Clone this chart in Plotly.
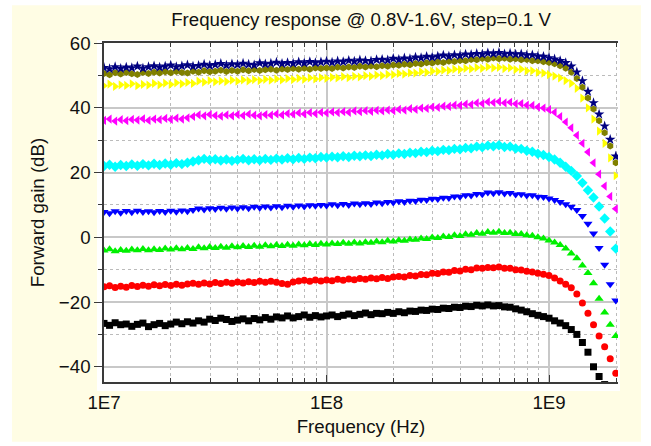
import numpy as np
import plotly.graph_objects as go

# Frequency sweep: 93 log-spaced points, 10 MHz .. 2 GHz (40 points per decade)
FREQ_HZ = np.logspace(7, 9.3, 93)

SUPPLY_V = ["0.8 V", "0.9 V", "1.0 V", "1.1 V", "1.2 V", "1.3 V", "1.4 V", "1.5 V", "1.6 V"]

gain_08 = [
    -26.6, -27.2, -26.4, -27.0, -26.8, -27.5, -26.9, -26.5, -27.6, -27.0,
    -26.6, -27.3, -26.8, -26.2, -26.7, -26.1, -26.5, -25.8, -26.2, -25.3,
    -25.7, -25.0, -25.4, -26.0, -25.6, -25.2, -25.8, -25.1, -25.5, -24.8,
    -25.3, -24.6, -24.9, -24.3, -24.9, -24.5, -24.0, -24.7, -24.2, -24.6,
    -24.3, -24.0, -24.5, -24.1, -23.7, -24.2, -23.8, -23.4, -23.9, -23.5,
    -23.6, -23.2, -23.5, -23.0, -23.3, -22.8, -22.9, -22.5, -22.6, -22.2,
    -22.3, -21.9, -22.0, -21.6, -21.7, -21.3, -21.4, -21.0, -21.2, -20.9,
    -21.2, -21.1, -21.5, -21.6, -22.1, -22.5, -23.0, -23.6, -24.1, -24.5,
    -25.0, -25.8, -26.5, -27.3, -28.5, -30.0, -32.5, -35.5, -40.0, -43.0, -45.5, -48.5, -51.5,
]
gain_09 = [
    -15.3, -15.0, -15.5, -15.1, -15.4, -14.9, -15.2, -14.8, -15.1, -14.7,
    -15.0, -14.6, -14.9, -14.5, -14.8, -14.4, -14.2, -14.5, -14.1, -14.4,
    -14.0, -14.3, -13.9, -14.2, -13.8, -14.1, -13.7, -14.0, -13.6, -13.9,
    -13.6, -13.9, -14.3, -14.5, -13.8, -13.5, -13.3, -13.6, -13.2, -13.5,
    -13.2, -13.4, -13.0, -13.3, -12.9, -13.1, -12.7, -13.0, -12.6, -12.8,
    -12.4, -12.7, -12.3, -12.1, -12.3, -11.8, -12.0, -11.5, -11.6, -11.1,
    -11.2, -10.7, -10.8, -10.3, -10.4, -9.9, -10.0, -9.5, -9.6, -9.3,
    -9.4, -9.2, -9.6, -9.6, -10.0, -10.1, -10.5, -10.7, -11.1, -11.4,
    -11.8, -12.6, -13.5, -14.5, -15.6, -17.5, -20.3, -23.5, -27.0, -30.5, -33.8, -37.5, -42.0,
]
gain_10 = [
    -4.1, -3.7, -4.3, -3.9, -4.2, -3.8, -4.0, -3.6, -4.0, -3.7,
    -3.9, -3.5, -3.8, -3.4, -3.7, -3.3, -3.6, -3.1, -3.4, -3.0,
    -3.3, -2.9, -3.2, -2.8, -3.1, -2.7, -3.0, -2.6, -2.9, -2.5,
    -2.8, -2.4, -2.7, -2.3, -2.6, -2.2, -2.5, -2.1, -2.4, -2.0,
    -2.2, -1.9, -2.1, -1.7, -2.0, -1.6, -1.9, -1.5, -1.7, -1.3,
    -1.5, -1.1, -1.3, -0.9, -1.1, -0.7, -0.8, -0.4, -0.5, -0.1,
    -0.2, 0.2, 0.1, 0.6, 0.4, 0.9, 0.8, 1.3, 1.1, 1.6,
    1.4, 1.7, 1.3, 1.4, 1.0, 1.0, 0.6, 0.5, 0.0, -0.4,
    -1.0, -1.6, -2.4, -3.5, -5.0, -6.5, -8.7, -11.0, -14.2, -19.0, -23.2, -27.0, -30.5,
]
gain_11 = [
    7.8, 7.4, 8.0, 7.6, 8.1, 7.7, 8.2, 7.8, 8.0, 7.7,
    8.1, 7.8, 8.2, 7.9, 8.3, 8.0, 8.4, 8.9, 8.6, 9.0,
    8.7, 9.1, 8.8, 9.2, 8.9, 9.3, 9.0, 9.4, 9.1, 9.5,
    9.2, 9.6, 9.3, 9.7, 9.4, 9.8, 9.5, 9.9, 9.7, 10.0,
    9.8, 10.2, 9.9, 10.3, 10.0, 10.4, 10.2, 10.5, 10.3, 10.7,
    10.5, 10.9, 10.7, 11.1, 10.9, 11.3, 11.2, 11.6, 11.5, 11.9,
    11.8, 12.2, 12.1, 12.6, 12.5, 13.0, 12.9, 13.4, 13.3, 13.8,
    13.6, 13.9, 13.5, 13.7, 13.2, 13.3, 12.9, 13.0, 12.5, 12.4,
    12.0, 11.5, 10.9, 10.2, 9.4, 8.4, 6.6, 4.2, 1.2, -3.3, -8.5, -14.5, -19.5,
]
gain_12 = [
    22.0, 22.4, 21.8, 22.3, 22.0, 22.5, 22.1, 22.6, 22.2, 22.7,
    22.3, 22.8, 22.4, 22.9, 22.6, 23.0, 23.4, 23.8, 24.2, 23.9,
    24.1, 23.7, 24.0, 23.6, 23.9, 24.2, 23.8, 24.1, 23.8, 24.2,
    23.9, 24.3, 24.0, 24.4, 24.1, 24.5, 24.2, 24.6, 24.4, 24.8,
    24.6, 24.9, 24.7, 25.0, 24.8, 25.2, 25.0, 25.3, 25.1, 25.5,
    25.3, 25.7, 25.5, 25.9, 25.7, 26.1, 26.0, 26.4, 26.3, 26.7,
    26.6, 27.0, 26.9, 27.3, 27.2, 27.6, 27.5, 28.0, 27.8, 28.3,
    28.1, 28.4, 27.9, 28.0, 27.4, 27.3, 26.7, 26.4, 25.8, 25.4,
    24.8, 24.0, 23.0, 21.8, 20.5, 18.9, 16.8, 14.5, 12.3, 9.5, 5.8, 1.8, -3.5,
]
gain_13 = [
    36.1, 36.5, 35.9, 36.3, 36.0, 36.4, 36.2, 36.6, 36.1, 36.5,
    36.3, 36.7, 36.4, 36.8, 36.5, 36.9, 37.3, 37.8, 37.5, 37.9,
    37.6, 37.4, 37.8, 37.5, 37.9, 37.6, 38.0, 37.7, 37.5, 37.9,
    37.7, 38.1, 37.8, 38.2, 38.0, 38.4, 38.1, 38.5, 38.2, 38.6,
    38.4, 38.7, 38.5, 38.8, 38.6, 39.0, 38.8, 39.1, 38.9, 39.2,
    39.0, 39.3, 39.1, 39.5, 39.3, 39.7, 39.5, 39.9, 39.8, 40.2,
    40.1, 40.5, 40.4, 40.8, 40.7, 41.1, 41.0, 41.5, 41.3, 41.8,
    41.6, 41.9, 41.5, 41.7, 41.2, 41.3, 40.8, 40.7, 40.2, 39.9,
    39.4, 38.6, 37.3, 35.6, 33.8, 31.5, 29.0, 26.3, 23.0, 19.5, 15.8, 12.6, 8.8,
]
gain_14 = [
    46.8, 47.3, 46.6, 47.1, 46.9, 47.4, 46.8, 47.2, 47.0, 47.5,
    47.1, 47.6, 47.2, 47.7, 47.4, 47.8, 47.5, 48.2, 47.9, 48.4,
    48.0, 48.3, 48.1, 48.5, 48.2, 48.6, 48.3, 48.7, 48.4, 48.8,
    48.5, 48.9, 48.6, 49.0, 48.7, 49.1, 48.8, 49.2, 48.9, 49.3,
    49.1, 49.4, 49.2, 49.6, 49.3, 49.7, 49.5, 49.9, 49.7, 50.1,
    49.9, 50.3, 50.2, 50.6, 50.4, 50.8, 50.7, 51.1, 50.9, 51.3,
    51.2, 51.6, 51.5, 51.9, 51.8, 52.2, 52.0, 52.4, 52.2, 52.6,
    52.3, 52.5, 52.1, 52.3, 51.8, 51.9, 51.4, 51.4, 50.9, 50.7,
    50.2, 49.8, 49.2, 48.4, 47.5, 46.0, 43.0, 40.0, 36.5, 32.8, 29.0, 24.5, 19.0,
]
gain_15 = [
    50.6, 50.2, 50.8, 50.4, 50.9, 50.5, 50.3, 50.9, 50.6, 51.0,
    50.7, 51.1, 50.8, 51.2, 50.9, 50.7, 51.3, 51.0, 51.4, 51.1,
    51.3, 51.6, 51.2, 51.5, 51.3, 51.7, 51.4, 51.8, 51.5, 51.7,
    51.9, 51.6, 52.0, 51.8, 52.1, 51.9, 52.2, 51.9, 52.3, 52.1,
    52.3, 52.1, 52.5, 52.3, 52.6, 52.4, 52.8, 52.6, 52.9, 52.7,
    53.0, 52.8, 53.2, 53.1, 53.4, 53.3, 53.7, 53.5, 53.9, 53.8,
    54.1, 54.0, 54.4, 54.3, 54.6, 54.5, 54.9, 54.8, 55.2, 55.0,
    55.4, 55.1, 55.3, 55.0, 55.1, 54.8, 54.9, 54.5, 54.5, 54.2,
    54.0, 53.6, 53.0, 52.2, 51.0, 49.0, 46.3, 43.0, 39.6, 36.0, 32.3, 28.2, 23.0,
]
gain_16 = [
    52.4, 52.0, 52.6, 52.1, 52.5, 52.3, 52.8, 52.2, 52.6, 52.9,
    52.5, 52.8, 53.1, 52.6, 52.9, 53.2, 52.8, 53.0, 53.4, 53.0,
    53.3, 53.6, 53.1, 53.5, 53.3, 53.7, 53.4, 53.2, 53.8, 53.5,
    53.7, 54.0, 53.6, 53.9, 53.7, 54.1, 53.8, 54.2, 53.9, 54.1,
    54.3, 54.0, 54.4, 54.2, 54.6, 54.3, 54.7, 54.5, 54.4, 54.8,
    54.9, 54.7, 55.2, 54.9, 55.3, 55.1, 55.6, 55.4, 55.8, 55.6,
    55.9, 56.2, 55.9, 56.3, 56.1, 56.5, 56.4, 56.7, 56.5, 56.9,
    56.7, 57.0, 56.6, 56.8, 56.5, 56.6, 56.2, 56.3, 55.9, 55.8,
    55.4, 55.0, 54.5, 53.9, 52.8, 51.0, 48.3, 45.0, 41.5, 38.0, 34.3, 30.2, 25.0,
]

GAINS = [gain_08, gain_09, gain_10, gain_11, gain_12, gain_13, gain_14, gain_15, gain_16]
COLORS = ["#000000", "#FF0000", "#00F000", "#0000FF", "#00FFFF",
          "#FF00FF", "#FFFF00", "#808000", "#000080"]
SYMBOLS = ["square", "circle", "triangle-up", "triangle-down", "diamond",
           "triangle-left", "triangle-right", "hexagon", "star"]
SIZES = [7, 7, 8, 8, 8, 8, 8, 7, 8]

X_TICKS = [1e7, 1e8, 1e9]
X_TICKTEXT = ["1E7", "1E8", "1E9"]
X_MINOR = [m * d for d in (1e7, 1e8) for m in range(2, 10)] + [2e9]
Y_TICKS = [-40, -20, 0, 20, 40, 60]

FONT = "Liberation Sans, Arial, sans-serif"
FS = 18.67  # 14 pt
W, H = 651, 446
L, R, T, B = 104, 33, 43, 62

fig = go.Figure()
for name, ys, col, sym, sz in zip(SUPPLY_V, GAINS, COLORS, SYMBOLS, SIZES):
    fig.add_trace(go.Scatter(
        x=FREQ_HZ, y=ys, name=name, mode="markers",
        marker=dict(symbol=sym, color=col, size=sz, line=dict(width=0)),
    ))

pw, ph = W - L - R, H - T - B


def px_x(p):
    return (p - L) / pw


def px_y(p):
    return (H - B - p) / ph


shapes = [
    # pale yellow panel
    dict(type="rect", xref="paper", yref="paper", layer="below",
         x0=px_x(12), x1=px_x(641), y0=px_y(444), y1=px_y(5),
         fillcolor="#FFFDE4", line=dict(width=0)),
    # white frame around plotting region
    dict(type="rect", xref="paper", yref="paper", layer="below",
         x0=px_x(97), x1=px_x(620), y0=px_y(393), y1=px_y(40),
         fillcolor="#FFFFFF", line=dict(width=0)),
]

grid_major = "#C8C8C8"
grid_minor = "#BBBBBB"
axis_col = "#3A3A3A"

fig.update_layout(
    width=W, height=H,
    margin=dict(l=L, r=R, t=T, b=B),
    paper_bgcolor="#FFFFFF", plot_bgcolor="#FFFFFF",
    showlegend=False,
    font=dict(family=FONT, size=FS, color="#111111"),
    title=dict(text="Frequency response @ 0.8V-1.6V, step=0.1 V",
               x=px_x(361), xref="paper", xanchor="center",
               y=1 - 19 / H, yref="container", yanchor="middle",
               font=dict(size=FS)),
    shapes=shapes,
    xaxis=dict(
        type="log", range=[7, 9.31],
        tickmode="array", tickvals=X_TICKS, ticktext=X_TICKTEXT,
        ticks="inside", ticklen=7, tickwidth=1, tickcolor=axis_col,
        ticklabelstandoff=3,
        showline=True, linecolor=axis_col, linewidth=1.5, mirror="ticks",
        showgrid=True, gridcolor=grid_major, gridwidth=1.5,
        zeroline=False,
        minor=dict(tickmode="array", tickvals=X_MINOR, ticks="inside", ticklen=4,
                   tickcolor=axis_col, showgrid=True, gridcolor=grid_minor,
                   griddash="dot", gridwidth=1),
        title=dict(text="Frequency (Hz)", standoff=8, font=dict(size=FS)),
        tickfont=dict(size=FS),
    ),
    yaxis=dict(
        range=[-44.7, 60],
        tickmode="array", tickvals=Y_TICKS,
        ticks="outside", ticklen=8, tickwidth=1, tickcolor=axis_col,
        showline=True, linecolor=axis_col, linewidth=1.5,
        showgrid=True, gridcolor=grid_major, gridwidth=1.5,
        zeroline=False,
        minor=dict(dtick=10, tick0=0, ticks="outside", ticklen=4, tickcolor=axis_col,
                   showgrid=True, gridcolor=grid_minor, griddash="dot", gridwidth=1),
        title=dict(text="Forward gain (dB)", standoff=9, font=dict(size=FS)),
        tickfont=dict(size=FS),
    ),
    yaxis2=dict(
        overlaying="y", side="right", anchor="x",
        range=[-44.7, 60], tickmode="array", tickvals=Y_TICKS,
        ticks="inside", ticklen=6, tickcolor=axis_col,
        showticklabels=False, showgrid=False, zeroline=False,
        showline=True, linecolor=axis_col, linewidth=1.5,
        minor=dict(dtick=10, tick0=0, ticks="inside", ticklen=4, tickcolor=axis_col),
    ),
)

fig.write_html("out.html")
